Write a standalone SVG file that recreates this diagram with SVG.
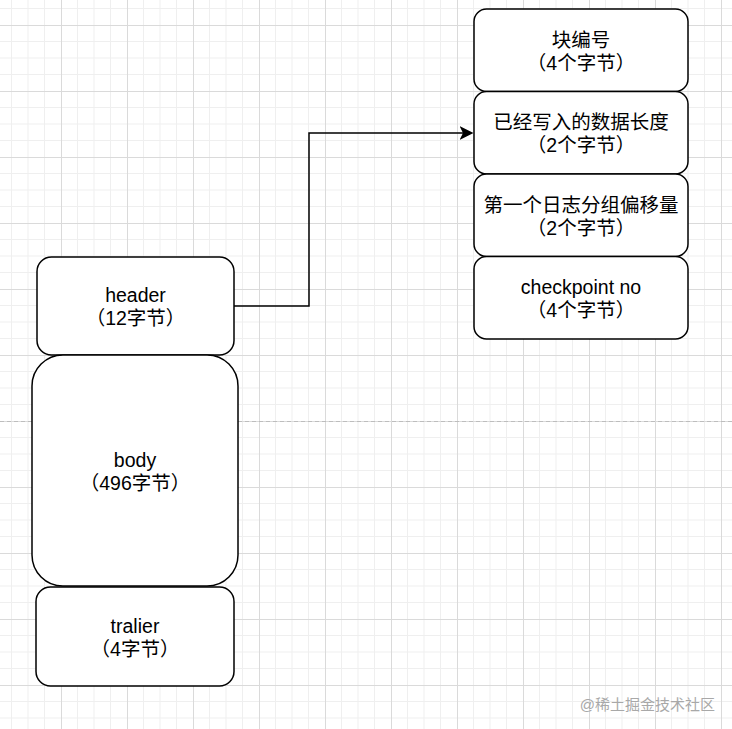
<svg xmlns="http://www.w3.org/2000/svg" width="732" height="729" viewBox="0 0 732 729">
<style>
.node{fill:#fff;stroke:#000;stroke-width:1.5}
.t{font-family:"Liberation Sans","Noto Sans CJK SC",sans-serif;font-size:19.5px;fill:#000;text-anchor:middle}
.edge{fill:none;stroke:#000;stroke-width:1.5}
.wm{font-family:"Liberation Sans","Noto Sans CJK SC",sans-serif;font-size:15px;fill:#a8a8a8;text-anchor:end}
</style>
<defs>
<pattern id="grid" patternUnits="userSpaceOnUse" x="-5" y="25" width="66" height="66">
<path d="M16.5 0V66M33 0V66M49.5 0V66M0 16.5H66M0 33H66M0 49.5H66" stroke="#efefef" stroke-width="1" fill="none"/>
<path d="M0.5 0V66M0 0.5H66" stroke="#dadada" stroke-width="1" fill="none"/>
</pattern>
<marker id="arr" viewBox="0 0 14 14" refX="3.5" refY="7" markerWidth="14" markerHeight="14" markerUnits="userSpaceOnUse" orient="auto">
<path d="M0,0 L14,7 L0,14 L3.5,7 z" fill="#000"/>
</marker>
</defs>
<rect width="732" height="729" fill="#fff"/>
<rect width="732" height="729" fill="url(#grid)"/>
<line x1="0" y1="421.5" x2="732" y2="421.5" stroke="#bdbdbd" stroke-width="1" stroke-dasharray="4 3"/>
<g id="connectors">
<path class="edge" d="M234 306H309V133H463" marker-end="url(#arr)"/>
</g>
<g id="node-block-no">
<rect class="node" x="474" y="9" width="214" height="82.5" rx="12.5"/>
<text class="t" x="581" y="46.5">块编号</text>
<text class="t" x="581" y="69.5">（4个字节）</text>
</g>
<g id="node-data-length">
<rect class="node" x="474" y="91.5" width="214" height="82.5" rx="12.5"/>
<text class="t" x="581" y="129">已经写入的数据长度</text>
<text class="t" x="581" y="152">（2个字节）</text>
</g>
<g id="node-first-group">
<rect class="node" x="474" y="174" width="214" height="82.5" rx="12.5"/>
<text class="t" x="581" y="211.5">第一个日志分组偏移量</text>
<text class="t" x="581" y="234.5">（2个字节）</text>
</g>
<g id="node-checkpoint">
<rect class="node" x="474" y="256.5" width="214" height="82.5" rx="12.5"/>
<text class="t" x="581" y="294">checkpoint no</text>
<text class="t" x="581" y="317">（4个字节）</text>
</g>
<g id="node-header">
<rect class="node" x="37" y="257" width="197" height="98" rx="14.5"/>
<text class="t" x="135.5" y="302">header</text>
<text class="t" x="135.5" y="325">（12字节）</text>
</g>
<g id="node-body">
<rect class="node" x="32" y="355" width="206" height="231" rx="31"/>
<text class="t" x="135" y="467">body</text>
<text class="t" x="135" y="490">（496字节）</text>
</g>
<g id="node-tralier">
<rect class="node" x="36" y="587" width="198" height="99" rx="14.5"/>
<text class="t" x="135" y="633">tralier</text>
<text class="t" x="135" y="656">（4字节）</text>
</g>
<text class="wm" x="715" y="710">@稀土掘金技术社区</text>
</svg>
